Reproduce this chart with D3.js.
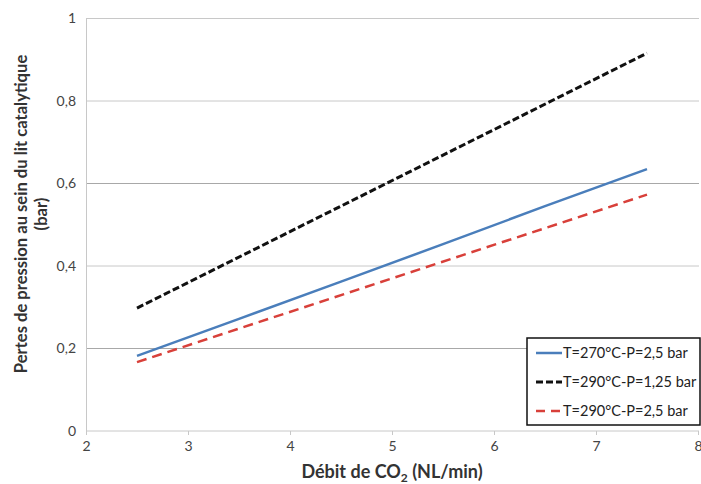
<!DOCTYPE html>
<html><head><meta charset="utf-8">
<script src="https://cdn.jsdelivr.net/npm/d3@7"></script>
<style>body{margin:0;background:#fff}svg{display:block}</style>
</head><body>
<svg id="c" width="701" height="484"></svg>
<script>
const xTicks = [2,3,4,5,6,7,8];
const yTicks = [0,0.2,0.4,0.6,0.8,1];
const seriesNames = ["T=270°C-P=2,5 bar","T=290°C-P=1,25 bar","T=290°C-P=2,5 bar"];
const blueX = [2.5, 3.5, 4.5, 5.5, 6.5, 7.5];
const blueY = [0.182, 0.272, 0.362, 0.453, 0.545, 0.635];
const blackX = [2.5, 7.5];
const blackY = [0.298, 0.916];
const redX = [2.5, 7.5];
const redY = [0.167, 0.573];

const svg = d3.select("#c");
const font = "Lato, 'Open Sans', sans-serif";
const x = d3.scaleLinear().domain([2,8]).range([86,698]);
const y = d3.scaleLinear().domain([0,1]).range([431,18.5]);

// gridlines
svg.append("g").selectAll("line").data(yTicks.slice(1)).join("line")
  .attr("x1",86).attr("x2",699).attr("y1",d=>y(d)).attr("y2",d=>y(d))
  .attr("stroke",d=> (d===0.6||d===0.2)?"#a8a8a8":"#c8c8c8").attr("stroke-width",1);

// axes
const xAxis = svg.append("g").attr("transform","translate(0,431)")
  .call(d3.axisBottom(x).tickValues(xTicks).tickSize(4).tickFormat(d3.format("d")));
xAxis.select(".domain").attr("stroke","#c8c8c8").attr("d","M86,0H699");
xAxis.selectAll(".tick line").attr("stroke","#c8c8c8");
xAxis.selectAll("text").attr("fill","#444").attr("font-family",font).attr("font-size",14).attr("dy","0.95em");

const yAxis = svg.append("g").attr("transform","translate(86,0)")
  .call(d3.axisLeft(y).tickValues(yTicks).tickSize(0).tickPadding(10)
    .tickFormat(d=> d===0?"0":d===1?"1":String(d).replace(".",",")));
yAxis.select(".domain").attr("stroke","#c8c8c8");
yAxis.selectAll("text").attr("fill","#444").attr("font-family",font).attr("font-size",14);

// lines
const line = d3.line().x(d=>x(d[0])).y(d=>y(d[1]));
svg.append("path").datum(d3.zip(blueX,blueY)).attr("d",line)
  .attr("fill","none").attr("stroke","#4a7ebb").attr("stroke-width",2.5);
svg.append("path").datum(d3.zip(blackX,blackY)).attr("d",line)
  .attr("fill","none").attr("stroke","#111").attr("stroke-width",3).attr("stroke-dasharray","7,3");
svg.append("path").datum(d3.zip(redX,redY)).attr("d",line)
  .attr("fill","none").attr("stroke","#d8403a").attr("stroke-width",2.5).attr("stroke-dasharray","10,6");

// legend
const lg = svg.append("g");
lg.append("rect").attr("x",527).attr("y",338).attr("width",173).attr("height",87)
  .attr("fill","#fff").attr("stroke","#111").attr("stroke-width",1.5);
const styles = [
  {c:"#4a7ebb",w:2.5,d:null},
  {c:"#111",w:3,d:"7,3"},
  {c:"#d8403a",w:2.5,d:"9,6"}
];
seriesNames.forEach((n,i)=>{
  const yy = 353 + i*29;
  lg.append("line").attr("x1",536).attr("x2",562).attr("y1",yy).attr("y2",yy)
    .attr("stroke",styles[i].c).attr("stroke-width",styles[i].w)
    .attr("stroke-dasharray",styles[i].d);
  lg.append("text").attr("x",563).attr("y",yy).attr("dy","0.35em")
    .attr("font-family",font).attr("font-size",14.5).attr("fill","#222").text(n);
});

// axis titles
const xt = svg.append("text").attr("x",392).attr("y",478).attr("text-anchor","middle")
  .attr("font-family",font).attr("font-size",18).attr("font-weight","bold").attr("fill","#333");
xt.append("tspan").text("Débit de CO");
xt.append("tspan").attr("font-size",12).attr("dy",4).text("2");
xt.append("tspan").attr("dy",-4).text(" (NL/min)");

const yt = svg.append("text").attr("transform","translate(27,214) rotate(-90)")
  .attr("text-anchor","middle").attr("font-family",font).attr("font-size",16.6)
  .attr("font-weight","bold").attr("fill","#333");
yt.append("tspan").attr("x",0).attr("y",0).text("Pertes de pression au sein du lit catalytique");
yt.append("tspan").attr("x",0).attr("y",20).text("(bar)");
</script>
</body></html>
